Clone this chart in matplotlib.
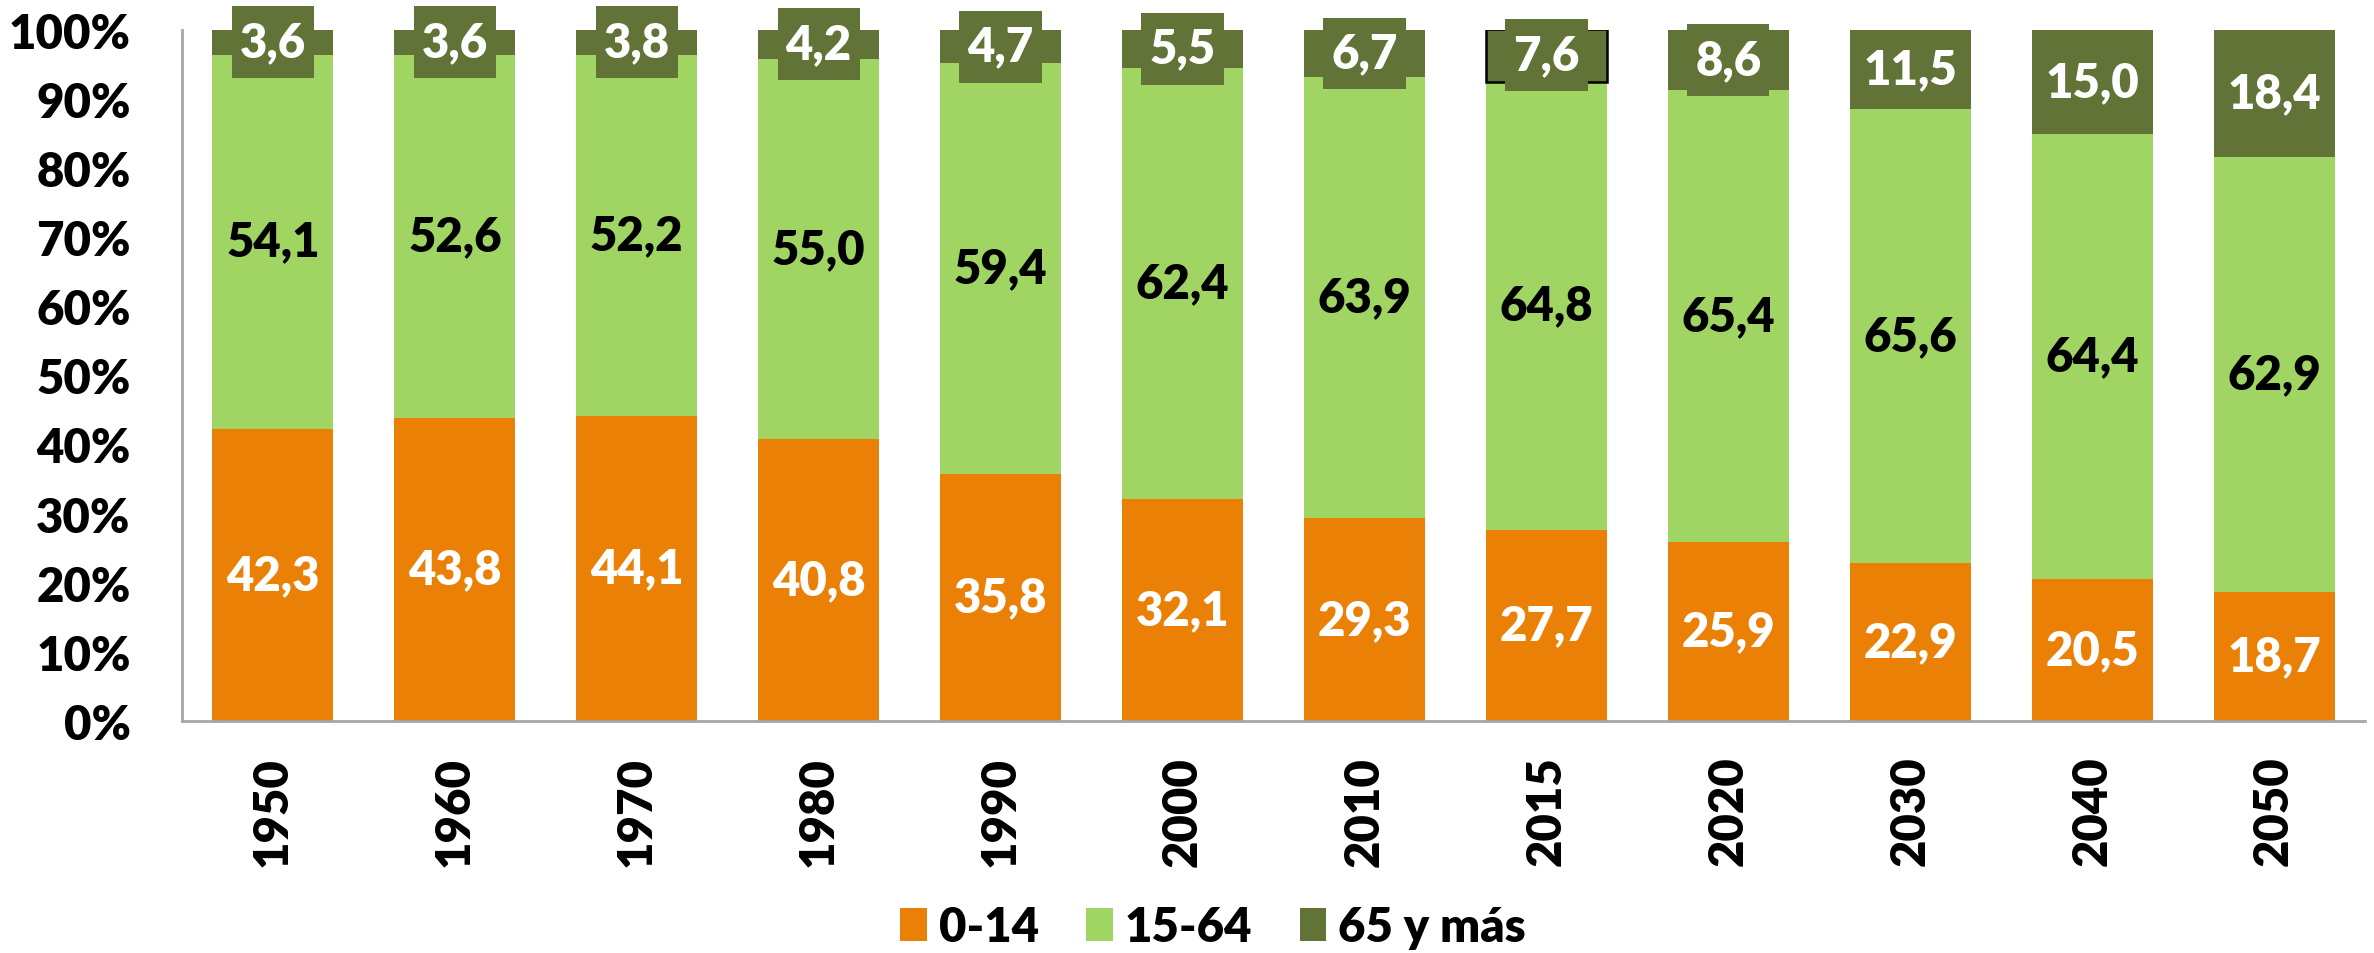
import matplotlib
matplotlib.use("Agg")
import matplotlib.pyplot as plt
from matplotlib.path import Path
import numpy as np

years = ["1950", "1960", "1970", "1980", "1990", "2000", "2010", "2015", "2020", "2030", "2040", "2050"]
age_0_14 = [42.3, 43.8, 44.1, 40.8, 35.8, 32.1, 29.3, 27.7, 25.9, 22.9, 20.5, 18.7]
age_15_64 = [54.1, 52.6, 52.2, 55.0, 59.4, 62.4, 63.9, 64.8, 65.4, 65.6, 64.4, 62.9]
age_65 = [3.6, 3.6, 3.8, 4.2, 4.7, 5.5, 6.7, 7.6, 8.6, 11.5, 15.0, 18.4]
series_names = ["0-14", "15-64", "65 y más"]
yticks = [0, 10, 20, 30, 40, 50, 60, 70, 80, 90, 100]

c_orange = "#EB8007"
c_light = "#A1D563"
c_dark = "#617336"

plt.rcParams['font.family'] = ['Lato', 'DejaVu Sans']
FS = 34
WT = 'heavy'


def label_box(x0, y0, width, height, mutation_size):
    # fixed-height label box (like the spreadsheet's data-label fill)
    px = 0.17 * mutation_size
    half_h = 0.76 * mutation_size
    cy = y0 + height / 2
    xa, xb = x0 - px, x0 + width + px
    ya, yb = cy - half_h, cy + half_h
    return Path([(xa, ya), (xb, ya), (xb, yb), (xa, yb), (xa, ya)], closed=True)


fig = plt.figure(figsize=(23.74, 9.54), dpi=100)
ax = fig.add_axes([182/2374, 1-722/954, (2365-182)/2374, (722-30.7)/954])

x = np.arange(len(years))
w = 0.665
b1 = ax.bar(x, age_0_14, w, color=c_orange, label=series_names[0])
bottom2 = np.array(age_0_14)
b2 = ax.bar(x, age_15_64, w, bottom=bottom2, color=c_light, label=series_names[1])
bottom3 = bottom2 + np.array(age_15_64)
b3 = ax.bar(x, age_65, w, bottom=bottom3, color=c_dark, label=series_names[2])
# 2015 segment outlined in the original
b3[years.index("2015")].set_edgecolor("black")
b3[years.index("2015")].set_linewidth(1.8)


def fmt(v):
    return f"{v:.1f}".replace('.', ',')


for i in range(len(years)):
    ax.text(x[i], age_0_14[i]/2, fmt(age_0_14[i]), ha='center', va='center',
            color='white', fontsize=FS, fontweight=WT)
    ax.text(x[i], bottom2[i] + age_15_64[i]/2, fmt(age_15_64[i]), ha='center', va='center',
            color='black', fontsize=FS, fontweight=WT)
    ax.text(x[i], bottom3[i] + age_65[i]/2, fmt(age_65[i]), ha='center', va='center',
            color='white', fontsize=FS, fontweight=WT, clip_on=False, zorder=5,
            bbox=dict(boxstyle=label_box, fc=c_dark, ec='none'))

ax.set_xlim(-0.5, len(years)-0.5)
ax.set_ylim(0, 100)
ax.set_yticks(yticks)
ax.set_yticklabels([f"{t}%" for t in yticks], fontsize=FS, fontweight=WT)
ax.set_xticks(x)
ax.set_xticklabels(years, rotation=90, fontsize=FS, fontweight=WT)
ax.tick_params(axis='y', length=0, pad=37)
ax.tick_params(axis='x', length=0, pad=25)
for s in ['top', 'right']:
    ax.spines[s].set_visible(False)
for s in ['left', 'bottom']:
    ax.spines[s].set_color('#A6A6A6')
    ax.spines[s].set_linewidth(2)

leg = fig.legend(handles=[b1, b2, b3], labels=series_names, loc='center',
                 bbox_to_anchor=(1213/2374, 1-928/954), ncol=3, frameon=False,
                 fontsize=FS, handlelength=0.57, handleheight=0.7,
                 handletextpad=0.25, columnspacing=1.0)
for t in leg.get_texts():
    t.set_fontweight(WT)

fig.savefig("out.png", dpi=100)
